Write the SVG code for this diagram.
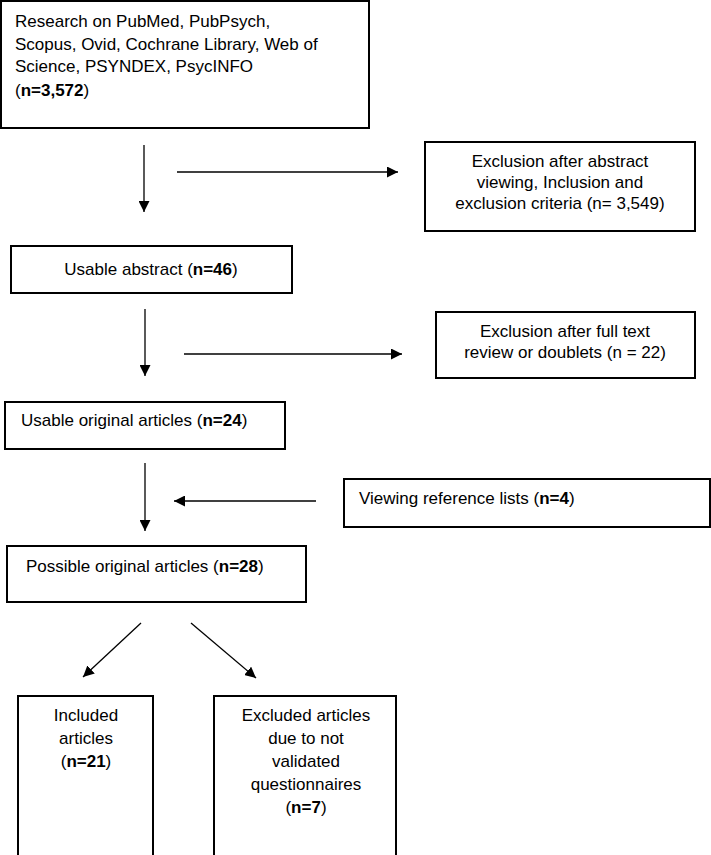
<svg xmlns="http://www.w3.org/2000/svg" width="711" height="855" viewBox="0 0 711 855">
<style>
rect{fill:#fff;stroke:#000;stroke-width:2}
text{font-family:"Liberation Sans",Arial,sans-serif;font-size:17px;fill:#000}
.c{text-anchor:middle}
.b{font-weight:bold}
line{stroke:#000;stroke-width:1.3}
</style>
<defs><marker id="a" viewBox="0 0 10 10" refX="10" refY="5" markerWidth="11" markerHeight="11" markerUnits="userSpaceOnUse" orient="auto"><path d="M0,0L10,5L0,10z"/></marker></defs>
<rect width="711" height="855" style="fill:#fff;stroke:none"/>
<g id="n1"><rect x="1" y="1" width="368" height="127"/>
<text x="15" y="27">Research on PubMed, PubPsych,</text>
<text x="15" y="50">Scopus, Ovid, Cochrane Library, Web of</text>
<text x="15" y="72">Science, PSYNDEX, PsycINFO</text>
<text x="15" y="96">(<tspan class="b">n=3,572</tspan>)</text></g>
<g id="n2"><rect x="425" y="142" width="270" height="89"/>
<text x="560" y="167" class="c">Exclusion after abstract</text>
<text x="560" y="188" class="c">viewing, Inclusion and</text>
<text x="560" y="209" class="c">exclusion criteria (n= 3,549)</text></g>
<g id="n3"><rect x="11" y="246" width="281" height="47"/>
<text x="151" y="275" class="c">Usable abstract (<tspan class="b">n=46</tspan>)</text></g>
<g id="n4"><rect x="436" y="312" width="259" height="66"/>
<text x="565" y="337" class="c">Exclusion after full text</text>
<text x="565" y="358" class="c">review or doublets (n = 22)</text></g>
<g id="n5"><rect x="5" y="402" width="280" height="47"/>
<text x="21" y="426">Usable original articles (<tspan class="b">n=24</tspan>)</text></g>
<g id="n6"><rect x="344" y="479" width="366" height="48"/>
<text x="359" y="504">Viewing reference lists (<tspan class="b">n=4</tspan>)</text></g>
<g id="n7"><rect x="7" y="546" width="299" height="56"/>
<text x="26" y="572">Possible original articles (<tspan class="b">n=28</tspan>)</text></g>
<g id="n8"><rect x="18" y="696" width="135" height="165"/>
<text x="86" y="721" class="c">Included</text>
<text x="86" y="744" class="c">articles</text>
<text x="86" y="767" class="c">(<tspan class="b">n=21</tspan>)</text></g>
<g id="n9"><rect x="214" y="696" width="182" height="165"/>
<text x="306" y="721" class="c">Excluded articles</text>
<text x="306" y="744" class="c">due to not</text>
<text x="306" y="767" class="c">validated</text>
<text x="306" y="790" class="c">questionnaires</text>
<text x="306" y="813" class="c">(<tspan class="b">n=7</tspan>)</text></g>
<g id="connectors">
<line x1="144" y1="145" x2="144" y2="212" marker-end="url(#a)"/>
<line x1="177" y1="172" x2="398" y2="172" marker-end="url(#a)"/>
<line x1="145" y1="309" x2="145" y2="376" marker-end="url(#a)"/>
<line x1="184" y1="354" x2="402" y2="354" marker-end="url(#a)"/>
<line x1="145" y1="463" x2="145" y2="531" marker-end="url(#a)"/>
<line x1="316" y1="501" x2="174" y2="501" marker-end="url(#a)"/>
<line x1="141" y1="623" x2="83" y2="677" marker-end="url(#a)"/>
<line x1="191" y1="623" x2="256" y2="678" marker-end="url(#a)"/>
</g>
</svg>
